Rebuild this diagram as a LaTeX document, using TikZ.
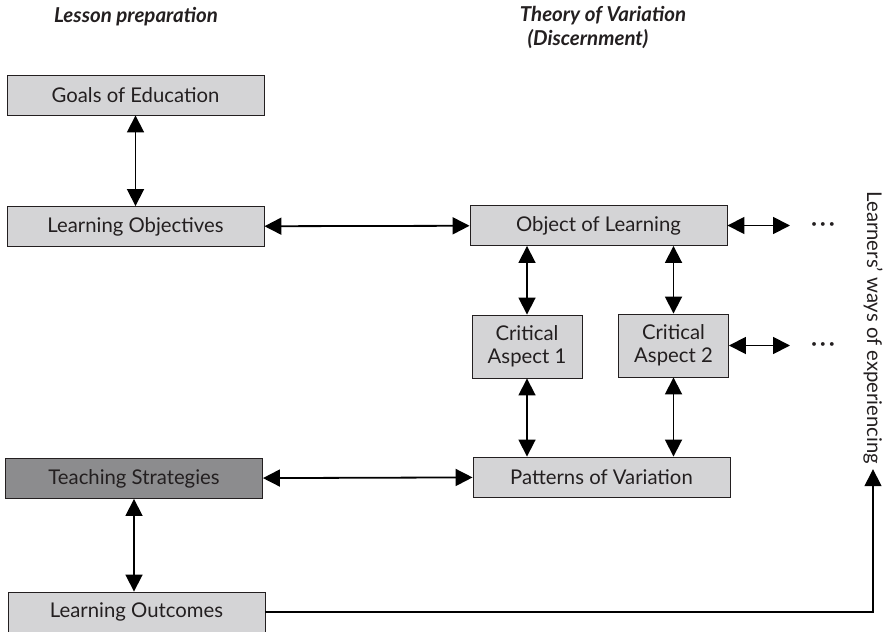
\documentclass[tikz,border=0pt]{standalone}
\usepackage{fontspec}
\setmainfont{Lato}
\usetikzlibrary{%
  arrows.meta,%
  positioning,%
  calc%
}
\definecolor{boxgray}{RGB}{212,212,214}
\definecolor{darkbox}{RGB}{140,140,142}
\definecolor{inkgray}{RGB}{35,31,32}

\begin{document}
\begin{tikzpicture}[
  x=1pt, y=-1pt,
  font=\fontsize{20.3}{23.5}\selectfont,
  >={Triangle[length=17pt,width=17pt]},
  line width=1.8pt,
  every node/.style={text=inkgray},
  block/.style={rectangle, minimum width=257pt, minimum height=40pt, draw=inkgray, fill=boxgray, line width=0.9pt, inner sep=0pt},
  aspect/.style={rectangle, minimum width=110pt, minimum height=63pt, draw=inkgray, fill=boxgray, line width=0.9pt, inner sep=0pt, align=center},
  heading/.style={font=\fontsize{20.5}{24}\selectfont\bfseries\itshape}
]
\useasboundingbox (0,0) rectangle (890,631);

% headings
\node[heading] (prep) at (136,17) {Lesson preparation};
\node[heading] (theory) at (603,16) {Theory of Variation};
\node[heading] (discern) at (588,39) {(Discernment)};

% left column
\node[block] (goal) at (135.5,95) {Goals of Education};
\node[block] (lobj) at (135.5,226.5) {Learning Objectives};
\node[block, fill=darkbox] (teach) at (134,478.5) {Teaching Strategies};
\node[block] (lout) at (136.5,612) {Learning Outcomes};

% right column
\node[block] (ool) at (598.5,225.5) {Object of Learning};
\node[aspect] (ca1) at (527,346.5) {Critical\\Aspect 1};
\node[aspect] (ca2) at (673.5,345.5) {Critical\\Aspect 2};
\node[block] (pov) at (601.5,477) {Patterns of Variation};

\node[font=\bfseries\fontsize{20.3}{23.5}\selectfont] (dots1) at (823,227) {·\,·\,·};
\node[font=\bfseries\fontsize{20.3}{23.5}\selectfont] (dots2) at (823,347) {·\,·\,·};
\coordinate (e1) at (790,225.5);
\coordinate (e2) at (790,345.5);

\node[rotate=-90, inner sep=4pt] (learn) at (873,328) {Learners’ ways of experiencing};

\draw[<->] (goal) -- (lobj);
\draw[<->] (lobj) -- (ool);
\draw[<->] (ca1 |- ool.south) -- (ca1);
\draw[<->] (ca2 |- ool.south) -- (ca2);
\draw[<->] (ca1) -- (ca1 |- pov.north);
\draw[<->] (ca2) -- (ca2 |- pov.north);
\draw[<->] (teach) -- (pov);
\draw[<->] (teach.south) -- (teach.south |- lout.north);
\draw[<->] (ool) -- (e1);
\draw[<->] (ca2) -- (e2);
\draw[->, line width=1.3pt] (lout) -| (learn);

\end{tikzpicture}
\end{document}
